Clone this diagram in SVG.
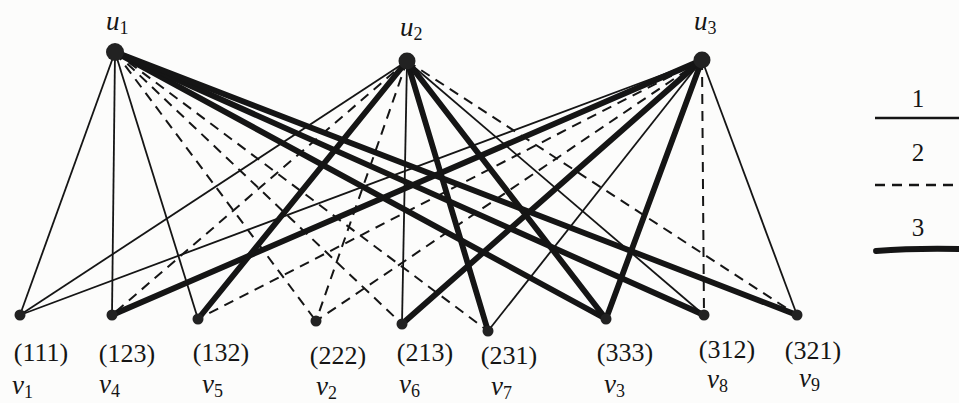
<svg xmlns="http://www.w3.org/2000/svg" width="959" height="403" viewBox="0 0 959 403">
  <style>
    .e1 { stroke: #151515; stroke-width: 1.8; fill: none; }
    .e2 { stroke: #151515; stroke-width: 2; fill: none; stroke-dasharray: 10 7; }
    .e3 { stroke: #151515; stroke-width: 5.8; fill: none; stroke-linecap: round; }
    .node { fill: #222; }
    text { font-family: 'Liberation Serif', 'Times New Roman', 'DejaVu Serif', serif; fill: #151515; }
    .lab { font-size: 26px; text-anchor: middle; }
    .var { font-style: italic; font-size: 27px; }
    .sub { font-style: normal; font-size: 18px; }
    .leg { font-size: 25px; text-anchor: middle; }
  </style>
  <rect width="959" height="403" fill="#fcfcfb"/>

  <!-- edges: style of u_i–v edge is the i-th digit of v's code -->
  <g id="connectors">
    <!-- v1 (111) -->
    <line class="e1" x1="115" y1="52" x2="20" y2="315"/>
    <line class="e1" x1="407" y1="61" x2="20" y2="315"/>
    <line class="e1" x1="702" y1="60" x2="20" y2="315"/>
    <!-- v4 (123) -->
    <line class="e1" x1="115" y1="52" x2="112" y2="315"/>
    <line class="e2" x1="407" y1="61" x2="112" y2="315"/>
    <line class="e3" x1="702" y1="60" x2="112" y2="315"/>
    <!-- v5 (132) -->
    <line class="e1" x1="115" y1="52" x2="198" y2="319"/>
    <line class="e3" x1="407" y1="61" x2="198" y2="319"/>
    <line class="e2" x1="702" y1="60" x2="198" y2="319"/>
    <!-- v2 (222) -->
    <line class="e2" x1="115" y1="52" x2="316" y2="321"/>
    <line class="e2" x1="407" y1="61" x2="316" y2="321"/>
    <line class="e2" x1="702" y1="60" x2="316" y2="321"/>
    <!-- v6 (213) -->
    <line class="e2" x1="115" y1="52" x2="402" y2="324"/>
    <line class="e1" x1="407" y1="61" x2="402" y2="324"/>
    <line class="e3" x1="702" y1="60" x2="402" y2="324"/>
    <!-- v7 (231) -->
    <line class="e2" x1="115" y1="52" x2="488" y2="331"/>
    <line class="e3" x1="407" y1="61" x2="488" y2="331"/>
    <line class="e1" x1="702" y1="60" x2="488" y2="331"/>
    <!-- v3 (333) -->
    <line class="e3" x1="115" y1="52" x2="606" y2="319"/>
    <line class="e3" x1="407" y1="61" x2="606" y2="319"/>
    <line class="e3" x1="702" y1="60" x2="606" y2="319"/>
    <!-- v8 (312) -->
    <line class="e3" x1="115" y1="52" x2="704" y2="315"/>
    <line class="e1" x1="407" y1="61" x2="704" y2="315"/>
    <line class="e2" x1="702" y1="60" x2="704" y2="315"/>
    <!-- v9 (321) -->
    <line class="e3" x1="115" y1="52" x2="797" y2="315"/>
    <line class="e2" x1="407" y1="61" x2="797" y2="315"/>
    <line class="e1" x1="702" y1="60" x2="797" y2="315"/>
  </g>

  <!-- upper vertices -->
  <g id="u1"><circle class="node" cx="115" cy="52" r="9"/><text class="var" x="106" y="30">u<tspan class="sub" dy="4">1</tspan></text></g>
  <g id="u2"><circle class="node" cx="407" cy="61" r="8.5"/><text class="var" x="400" y="36">u<tspan class="sub" dy="4">2</tspan></text></g>
  <g id="u3"><circle class="node" cx="702" cy="60" r="8.5"/><text class="var" x="694" y="30">u<tspan class="sub" dy="4">3</tspan></text></g>

  <!-- lower vertices -->
  <g id="v1"><circle class="node" cx="20" cy="315" r="5.5"/><text class="lab" x="41" y="361">(111)</text><text class="var" x="12" y="394">v<tspan class="sub" dy="4">1</tspan></text></g>
  <g id="v4"><circle class="node" cx="112" cy="315" r="5.5"/><text class="lab" x="127" y="362">(123)</text><text class="var" x="99" y="393">v<tspan class="sub" dy="4">4</tspan></text></g>
  <g id="v5"><circle class="node" cx="198" cy="319" r="5.5"/><text class="lab" x="221" y="361">(132)</text><text class="var" x="202" y="393">v<tspan class="sub" dy="4">5</tspan></text></g>
  <g id="v2"><circle class="node" cx="316" cy="321" r="5.5"/><text class="lab" x="338" y="364">(222)</text><text class="var" x="316" y="395">v<tspan class="sub" dy="4">2</tspan></text></g>
  <g id="v6"><circle class="node" cx="402" cy="324" r="5.5"/><text class="lab" x="425" y="361">(213)</text><text class="var" x="399" y="393">v<tspan class="sub" dy="4">6</tspan></text></g>
  <g id="v7"><circle class="node" cx="488" cy="331" r="5.5"/><text class="lab" x="509" y="364">(231)</text><text class="var" x="491" y="395">v<tspan class="sub" dy="4">7</tspan></text></g>
  <g id="v3"><circle class="node" cx="606" cy="319" r="5.5"/><text class="lab" x="625" y="361">(333)</text><text class="var" x="604" y="393">v<tspan class="sub" dy="4">3</tspan></text></g>
  <g id="v8"><circle class="node" cx="704" cy="315" r="5.5"/><text class="lab" x="727" y="358">(312)</text><text class="var" x="707" y="388">v<tspan class="sub" dy="4">8</tspan></text></g>
  <g id="v9"><circle class="node" cx="797" cy="315" r="5.5"/><text class="lab" x="813" y="359">(321)</text><text class="var" x="799" y="387">v<tspan class="sub" dy="4">9</tspan></text></g>

  <!-- legend -->
  <g id="legend">
    <text class="leg" x="918" y="107">1</text>
    <line x1="875" y1="118" x2="959" y2="118" stroke="#151515" stroke-width="2.6"/>
    <text class="leg" x="918" y="161">2</text>
    <line x1="875" y1="185" x2="959" y2="185" stroke="#151515" stroke-width="2.4" stroke-dasharray="10 7"/>
    <text class="leg" x="918" y="236">3</text>
    <path d="M876 251 Q915 248 959 249" stroke="#151515" stroke-width="5.8" fill="none" stroke-linecap="round"/>
  </g>
</svg>
